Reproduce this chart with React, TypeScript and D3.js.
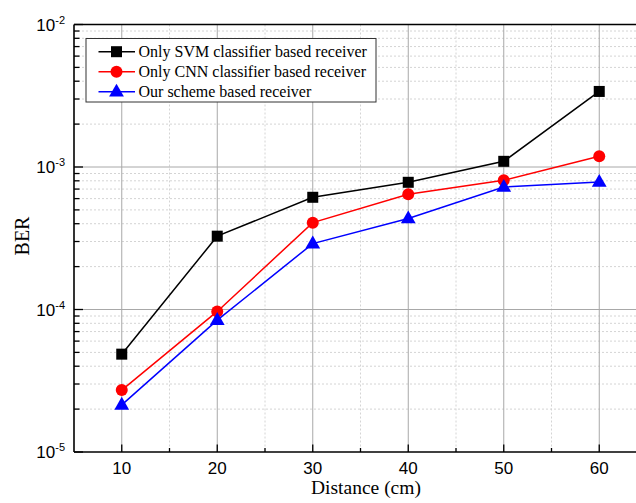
import React from "react";
import * as d3 from "d3";

const distances = [10, 20, 30, 40, 50, 60];
const svmBer = [4.86e-5, 3.27e-4, 6.13e-4, 7.81e-4, 1.096e-3, 3.39e-3];
const cnnBer = [2.72e-5, 9.69e-5, 4.07e-4, 6.43e-4, 8.06e-4, 1.19e-3];
const oursBer = [2.14e-5, 8.42e-5, 2.9e-4, 4.35e-4, 7.24e-4, 7.85e-4];

const seriesNames = [
  "Only SVM classifier based receiver",
  "Only CNN classifier based receiver",
  "Our scheme based receiver",
];
const seriesColors = ["#000000", "#ff0000", "#0000ff"];
const seriesShapes = ["square", "circle", "triangle"];
const xTicks = [10, 20, 30, 40, 50, 60];
const xMinorTicks = [15, 25, 35, 45, 55];
const yExponents = [-2, -3, -4, -5];

const W = 636;
const H = 503;
const left = 74;
const top = 24.5;
const bottom = 452;
const xScale = d3.scaleLinear().domain([5, 65]).range([left, left + 60 * 9.55]);
const yScale = d3.scaleLog().domain([1e-5, 1e-2]).range([bottom, top]);

function Marker({ shape, x, y, color }: { shape: string; x: number; y: number; color: string }) {
  if (shape === "square") {
    return <rect x={x - 5.5} y={y - 5.5} width={11} height={11} fill={color} />;
  }
  if (shape === "circle") {
    return <circle cx={x} cy={y} r={6} fill={color} />;
  }
  const p = d3.symbol().type(d3.symbolTriangle).size(95)();
  return <path d={p || ""} transform={`translate(${x},${y + 0.5})`} fill={color} />;
}

export default function App() {
  const allSeries = [svmBer, cnnBer, oursBer];
  const line = d3
    .line<number>()
    .x((_, i) => xScale(distances[i]))
    .y((d) => yScale(d));

  const minorY: number[] = [];
  for (let e = -5; e < -2; e++) {
    for (let m = 2; m <= 9; m++) minorY.push(m * Math.pow(10, e));
  }
  const xRight = W + 10;

  return (
    <svg
      width={W}
      height={H}
      style={{ position: "absolute", left: 0, top: 0, background: "#fff" }}
    >
      <rect x={0} y={0} width={W} height={H} fill="#fff" />
      {/* minor grid */}
      {xMinorTicks.map((t) => (
        <line
          key={"xm" + t}
          x1={xScale(t)}
          x2={xScale(t)}
          y1={top}
          y2={bottom}
          stroke="#d4d4d4"
          strokeWidth={1}
          strokeDasharray="2,2"
        />
      ))}
      {minorY.map((v, i) => (
        <line
          key={"ym" + i}
          x1={left}
          x2={xRight}
          y1={yScale(v)}
          y2={yScale(v)}
          stroke="#d4d4d4"
          strokeWidth={1}
          strokeDasharray="2,2"
        />
      ))}
      {/* major grid */}
      {xTicks.map((t) => (
        <line
          key={"xg" + t}
          x1={xScale(t)}
          x2={xScale(t)}
          y1={top}
          y2={bottom}
          stroke="#a8a8a8"
          strokeWidth={1}
        />
      ))}
      {[-3, -4].map((e) => (
        <line
          key={"yg" + e}
          x1={left}
          x2={xRight}
          y1={yScale(Math.pow(10, e))}
          y2={yScale(Math.pow(10, e))}
          stroke="#a8a8a8"
          strokeWidth={1}
        />
      ))}
      {/* series */}
      {allSeries.map((s, si) => (
        <g key={"s" + si}>
          <path d={line(s) || ""} fill="none" stroke={seriesColors[si]} strokeWidth={1.5} />
          {s.map((v, i) => (
            <Marker
              key={i}
              shape={seriesShapes[si]}
              x={xScale(distances[i])}
              y={yScale(v)}
              color={seriesColors[si]}
            />
          ))}
        </g>
      ))}
      {/* axes frame */}
      <line x1={left} x2={left} y1={top} y2={bottom} stroke="#000" strokeWidth={1.6} />
      <line x1={left} x2={xRight} y1={bottom} y2={bottom} stroke="#000" strokeWidth={1.6} />
      <line x1={left} x2={xRight} y1={top} y2={top} stroke="#000" strokeWidth={1.6} />
      {/* y ticks */}
      {yExponents.map((e) => (
        <line
          key={"yt" + e}
          x1={left}
          x2={left + 9}
          y1={yScale(Math.pow(10, e))}
          y2={yScale(Math.pow(10, e))}
          stroke="#000"
          strokeWidth={1.3}
        />
      ))}
      {minorY.map((v, i) => (
        <line
          key={"ytm" + i}
          x1={left}
          x2={left + 5.5}
          y1={yScale(v)}
          y2={yScale(v)}
          stroke="#000"
          strokeWidth={1.3}
        />
      ))}
      {/* x ticks */}
      {xTicks.map((t) => (
        <line
          key={"xt" + t}
          x1={xScale(t)}
          x2={xScale(t)}
          y1={bottom}
          y2={bottom - 7.5}
          stroke="#000"
          strokeWidth={1.3}
        />
      ))}
      {xMinorTicks.map((t) => (
        <line
          key={"xtm" + t}
          x1={xScale(t)}
          x2={xScale(t)}
          y1={bottom}
          y2={bottom - 4}
          stroke="#000"
          strokeWidth={1.3}
        />
      ))}
      {/* x tick labels */}
      {xTicks.map((t) => (
        <text
          key={"xl" + t}
          x={xScale(t)}
          y={474}
          textAnchor="middle"
          fontFamily="'Liberation Sans', Arial, sans-serif"
          fontSize={17}
          fill="#000"
        >
          {t}
        </text>
      ))}
      {/* y tick labels */}
      {yExponents.map((e) => (
        <text
          key={"yl" + e}
          x={65}
          y={yScale(Math.pow(10, e)) + 6}
          textAnchor="end"
          fontFamily="'Liberation Sans', Arial, sans-serif"
          fontSize={17}
          fill="#000"
        >
          10
          <tspan fontSize={11} dy={-7}>
            {String(e)}
          </tspan>
        </text>
      ))}
      {/* axis titles */}
      <text
        x={366}
        y={494}
        textAnchor="middle"
        fontFamily="'Liberation Serif', 'Times New Roman', serif"
        fontSize={19.5}
        fill="#000"
      >
        Distance (cm)
      </text>
      <text
        transform={`translate(29,236) rotate(-90)`}
        textAnchor="middle"
        fontFamily="'Liberation Serif', 'Times New Roman', serif"
        fontSize={20}
        fill="#000"
      >
        BER
      </text>
      {/* legend */}
      <rect x={86} y={38.5} width={290} height={63.5} fill="#fff" stroke="#333" strokeWidth={1} />
      {seriesNames.map((name, i) => {
        const cy = 51.7 + i * 20;
        return (
          <g key={"lg" + i}>
            <line x1={98.5} x2={135} y1={cy} y2={cy} stroke={seriesColors[i]} strokeWidth={1.5} />
            <Marker shape={seriesShapes[i]} x={116.5} y={cy} color={seriesColors[i]} />
            <text
              x={138.5}
              y={cy + 5.5}
              fontFamily="'Liberation Serif', 'Times New Roman', serif"
              fontSize={16}
              fill="#000"
            >
              {name}
            </text>
          </g>
        );
      })}
    </svg>
  );
}
